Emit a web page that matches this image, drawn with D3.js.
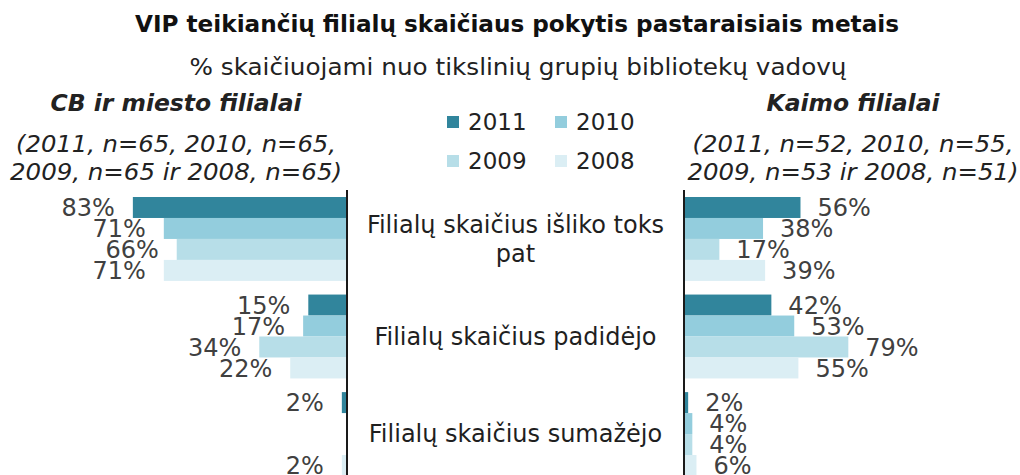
<!DOCTYPE html>
<html>
<head>
<meta charset="utf-8">
<script src="https://cdn.jsdelivr.net/npm/d3@7"></script>
<style>
  body { margin: 0; background: #fff; }
  svg { display: block; font-family: "DejaVu Sans", Verdana, sans-serif; }
</style>
</head>
<body>
<div id="chart"></div>
<script>
// categories and years
var categories = ["Filialų skaičius išliko toks pat", "Filialų skaičius padidėjo", "Filialų skaičius sumažėjo"];
var years = ["2011", "2010", "2009", "2008"];
var colors = ["#31859c", "#93cddd", "#b7dee8", "#dbeef4"];

// CB ir miesto filialai (%)
var city2011 = [83, 15, 2];
var city2010 = [71, 17, 0];
var city2009 = [66, 34, 0];
var city2008 = [71, 22, 2];

// Kaimo filialai (%)
var rural2011 = [56, 42, 2];
var rural2010 = [38, 53, 4];
var rural2009 = [17, 79, 4];
var rural2008 = [39, 55, 6];

var title = "VIP teikiančių filialų skaičiaus pokytis pastaraisiais metais";
var subtitle = "% skaičiuojami nuo tikslinių grupių bibliotekų vadovų";
var leftHeader = ["CB ir miesto filialai", "(2011, n=65, 2010, n=65,", "2009, n=65 ir 2008, n=65)"];
var rightHeader = ["Kaimo filialai", "(2011, n=52, 2010, n=55,", "2009, n=53 ir 2008, n=51)"];

var cityData = [city2011, city2010, city2009, city2008];
var ruralData = [rural2011, rural2010, rural2009, rural2008];

function toRows(series) {
    var rows = [];
    categories.forEach(function (c, ci) {
        years.forEach(function (yr, yi) {
            rows.push({ cat: c, year: yr, value: series[yi][ci], color: colors[yi] });
        });
    });
    return rows;
}

var width = 1020, height = 475;

var svg = d3.select("#chart")
    .append("svg")
    .attr("width", width)
    .attr("height", height);

// scales
var xLeft = d3.scaleLinear().domain([0, 100]).range([347, 89]);
var xRight = d3.scaleLinear().domain([0, 100]).range([684, 892]);
var y = d3.scaleBand().domain(categories).range([197, 476]).paddingInner(0.14).paddingOuter(0);
var yInner = d3.scaleBand().domain(years).range([0, y.bandwidth()]).padding(0);

// title + subtitle
svg.append("text")
    .attr("x", 517).attr("y", 32)
    .attr("text-anchor", "middle")
    .attr("font-size", 23).attr("font-weight", "bold")
    .attr("fill", "#111")
    .attr("textLength", 764).attr("lengthAdjust", "spacingAndGlyphs")
    .text(title);

svg.append("text")
    .attr("x", 518).attr("y", 75)
    .attr("text-anchor", "middle")
    .attr("font-size", 23)
    .attr("fill", "#222")
    .attr("textLength", 657).attr("lengthAdjust", "spacingAndGlyphs")
    .text(subtitle);

// side headers
function header(lines, cx, widths) {
    var g = svg.append("g");
    var ys = [111, 152, 180];
    lines.forEach(function (t, i) {
        g.append("text")
            .attr("x", cx).attr("y", ys[i])
            .attr("text-anchor", "middle")
            .attr("font-size", 23)
            .attr("font-style", "italic")
            .attr("font-weight", i == 0 ? "bold" : "normal")
            .attr("fill", "#222")
            .attr("textLength", widths[i]).attr("lengthAdjust", "spacingAndGlyphs")
            .text(t);
    });
}
header(leftHeader, 176, [251, 320, 332]);
header(rightHeader, 853, [173, 321, 331]);

// legend
var legend = svg.append("g").selectAll("g")
    .data(years)
    .enter()
    .append("g")
    .attr("transform", function (d, i) {
        return "translate(" + (447 + (i % 2) * 108) + "," + (116 + Math.floor(i / 2) * 39) + ")";
    });
legend.append("rect")
    .attr("width", 12).attr("height", 12)
    .attr("fill", function (d, i) { return colors[i]; });
legend.append("text")
    .attr("x", 21).attr("y", 6)
    .attr("dy", "0.35em")
    .attr("font-size", 23)
    .attr("fill", "#222")
    .text(function (d) { return d; });

// bars
function drawSide(rows, x, left) {
    var g = svg.append("g");
    g.selectAll("rect")
        .data(rows)
        .enter()
        .append("rect")
        .attr("x", function (d) { return left ? x(d.value) : x(0); })
        .attr("y", function (d) { return y(d.cat) + yInner(d.year); })
        .attr("width", function (d) { return Math.abs(x(d.value) - x(0)); })
        .attr("height", yInner.bandwidth())
        .attr("fill", function (d) { return d.color; });

    g.selectAll("text")
        .data(rows.filter(function (d) { return d.value > 0; }))
        .enter()
        .append("text")
        .attr("x", function (d) { return left ? x(d.value) - 18 : x(d.value) + 17; })
        .attr("y", function (d) { return y(d.cat) + yInner(d.year) + yInner.bandwidth() / 2; })
        .attr("dy", "0.36em")
        .attr("text-anchor", left ? "end" : "start")
        .attr("font-size", 24)
        .attr("fill", "#404040")
        .text(function (d) { return d.value + "%"; });

    // vertical axis line
    g.append("line")
        .attr("x1", x(0)).attr("x2", x(0))
        .attr("y1", y.range()[0] - 7).attr("y2", height)
        .attr("stroke", "#1a1a1a")
        .attr("stroke-width", 2);
}
drawSide(toRows(cityData), xLeft, true);
drawSide(toRows(ruralData), xRight, false);

// category labels in the middle, wrapped
var cx = (xLeft(0) + xRight(0)) / 2;
var catText = svg.append("g").selectAll("text")
    .data(categories)
    .enter()
    .append("text")
    .attr("x", cx)
    .attr("text-anchor", "middle")
    .attr("font-size", 24)
    .attr("fill", "#1f1f1f");

catText.each(function (d) {
    var el = d3.select(this);
    var words = d.split(" "), lines = [], line = [];
    var probe = el.append("tspan");
    words.forEach(function (w) {
        line.push(w);
        probe.text(line.join(" "));
        if (probe.node().getComputedTextLength() > 320 && line.length > 1) {
            line.pop();
            lines.push(line.join(" "));
            line = [w];
        }
    });
    lines.push(line.join(" "));
    probe.remove();
    var lh = 29;
    var top = y(d) + y.bandwidth() / 2 - (lines.length - 1) * lh / 2;
    lines.forEach(function (t, i) {
        el.append("tspan")
            .attr("x", cx)
            .attr("y", top + i * lh)
            .attr("dy", "0.35em")
            .text(t);
    });
});
</script>
</body>
</html>
